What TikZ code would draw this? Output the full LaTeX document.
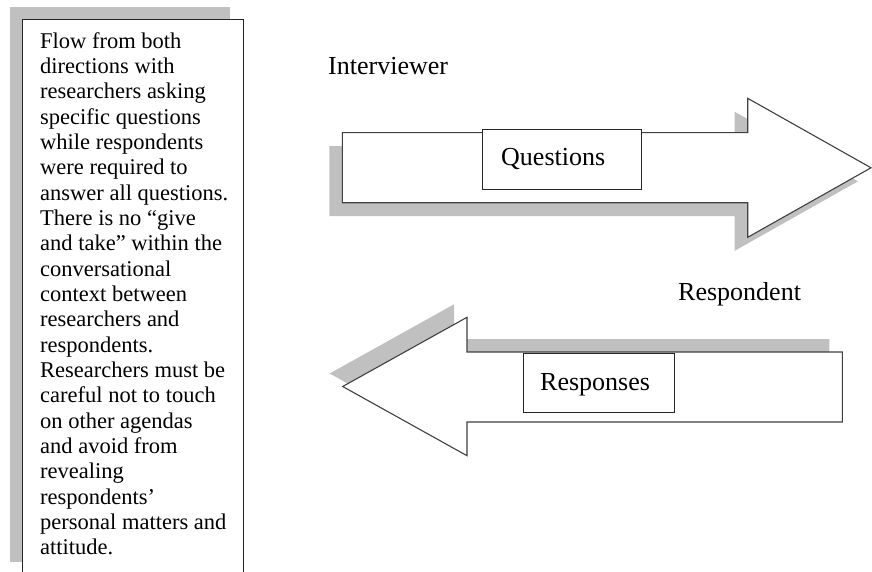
\documentclass[tikz,border=0pt]{standalone}
\usepackage{fontspec}
\setmainfont{Liberation Serif}
\definecolor{shadowgray}{HTML}{C0C0C0}
\definecolor{edgegray}{HTML}{404040}
\begin{document}
\begin{tikzpicture}[x=1pt,y=-1pt,
  shadowfill/.style={fill=shadowgray,draw=none},
  arrowshape/.style={fill=white,draw=edgegray,line width=1.1pt,line join=miter},
  labelbox/.style={fill=white,draw=black!85,line width=0.9pt},
  lbl/.style={inner sep=0pt,anchor=base west,font=\fontsize{26}{30}\selectfont},
  bodytext/.style={inner sep=0pt,anchor=base west,font=\fontsize{22.5}{25.33}\selectfont}]
\useasboundingbox (0,0) rectangle (872,572);
\clip (0,0) rectangle (872,572);
% left text box
\fill[shadowfill] (9.5,7) rectangle (230,562);
\draw[fill=white,draw=black!85,line width=0.9pt] (22.3,19) rectangle (243,585);
\node[bodytext] (desc) at (40,48.3) {\begin{tabular}[t]{@{}l@{}}Flow from both\\directions with\\researchers asking\\specific questions\\while respondents\\were required to\\answer all questions.\\There is no “give\\and take” within the\\conversational\\context between\\researchers and\\respondents.\\Researchers must be\\careful not to touch\\on other agendas\\and avoid from\\revealing\\respondents’\\personal matters and\\attitude.\end{tabular}};
% upper arrow (Interviewer -> questions)
\fill[shadowfill,shift={(-13,13.5)}] (342.3,132.7) -- (747.7,132.7) -- (747.7,98.3) -- (871,167.8) -- (747.7,237.3) -- (747.7,202.7) -- (342.3,202.7) -- cycle;
\draw[arrowshape] (342.3,132.7) -- (747.7,132.7) -- (747.7,98.3) -- (871,167.8) -- (747.7,237.3) -- (747.7,202.7) -- (342.3,202.7) -- cycle;
\draw[labelbox] (482.3,129.3) rectangle (641,189);
\node[lbl] (q) at (501,165.7) {Questions};
\node[lbl] (iv) at (328,74.3) {Interviewer};
% lower arrow (responses)
\fill[shadowfill,shift={(-13,-13)}] (842.3,352) -- (467,352) -- (467,317.3) -- (342.7,386.5) -- (467,455.7) -- (467,422) -- (842.3,422) -- cycle;
\draw[arrowshape] (842.3,352) -- (467,352) -- (467,317.3) -- (342.7,386.5) -- (467,455.7) -- (467,422) -- (842.3,422) -- cycle;
\draw[labelbox] (523,353.3) rectangle (674.7,412.3);
\node[lbl] (r) at (540,390.8) {Responses};
\node[lbl] (resp) at (678,300) {Respondent};
\end{tikzpicture}
\end{document}
